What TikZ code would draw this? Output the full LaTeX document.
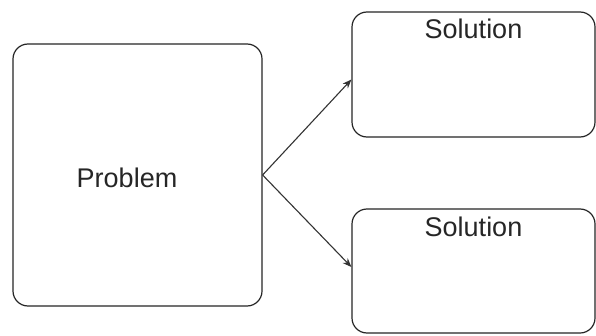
\documentclass[tikz,border=0pt]{standalone}
\usepackage{fontspec}
\setmainfont{Liberation Sans}
\usetikzlibrary{arrows.meta}
\begin{document}
\begin{tikzpicture}[x=1pt,y=1pt,
  rbox/.style={draw=black!85,line width=1.2pt,rounded corners=15pt},
  lbl/.style={font=\fontsize{27}{30}\selectfont,text=black!85,inner sep=0pt},
  conn/.style={draw=black!80,line width=1.1pt,-{Stealth[length=9pt,width=7pt]}}]
\useasboundingbox (0,0) rectangle (596,335);
\fill[white] (0,0) rectangle (596,335);
\node[rbox,minimum width=249pt,minimum height=262pt,inner sep=0pt] (p) at (137.5,160) {};
\node[rbox,minimum width=243pt,minimum height=125pt,inner sep=0pt] (s1) at (473.5,260.5) {};
\node[rbox,minimum width=243pt,minimum height=124pt,inner sep=0pt] (s2) at (473.5,64) {};
\node[lbl] (pt) at (127,157) {Problem};
\node[lbl] (s1t) at (473.5,306) {Solution};
\node[lbl] (s2t) at (473.5,108) {Solution};
\draw[conn] (p.east) -- ([yshift=-5pt]s1.west);
\draw[conn] (p.east) -- ([yshift=4pt]s2.west);
\end{tikzpicture}
\end{document}
